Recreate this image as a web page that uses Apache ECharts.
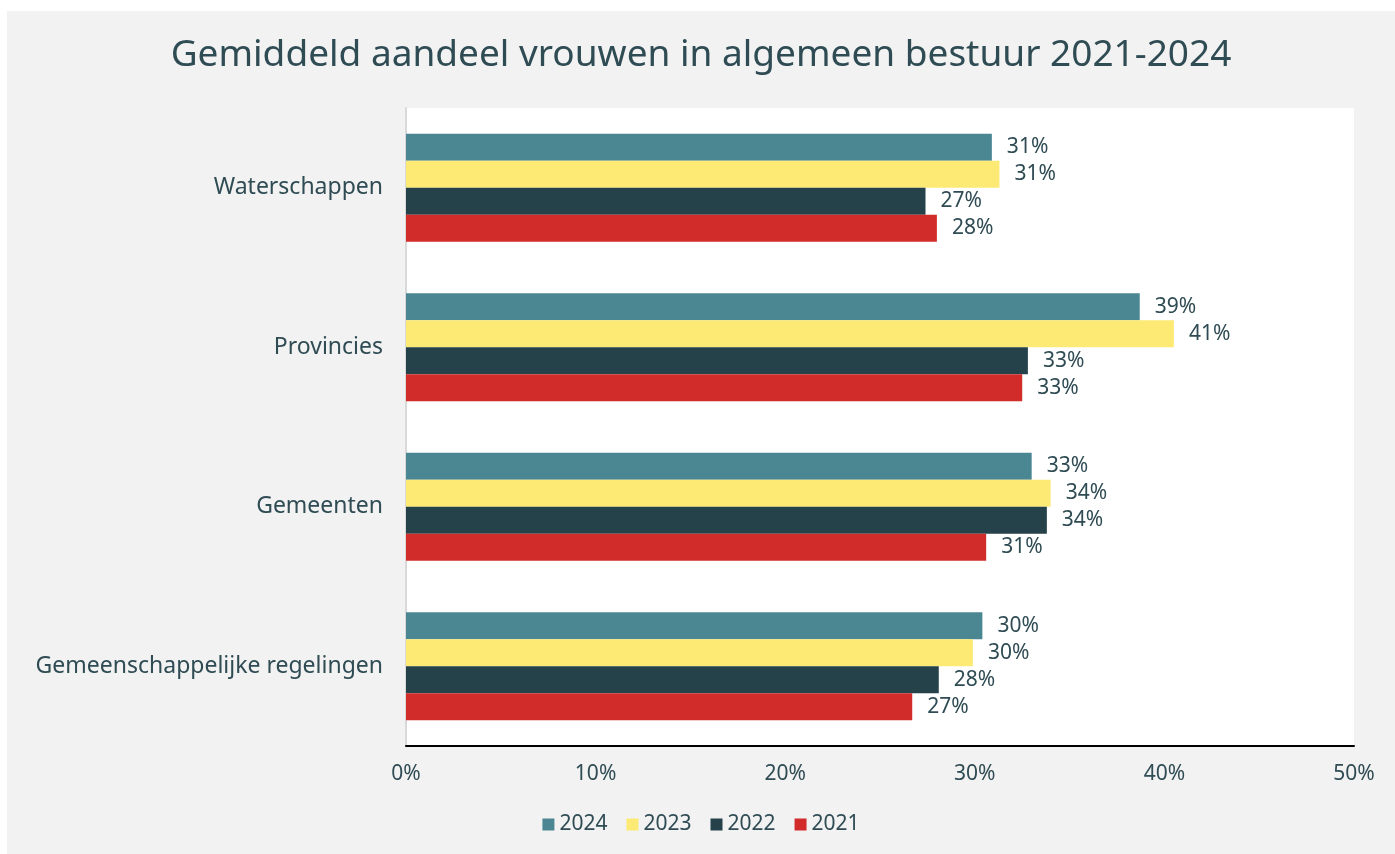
<!DOCTYPE html>
<html>
<head>
  <meta charset="utf-8">
  <script type="text/javascript" src="https://cdn.jsdelivr.net/npm/echarts/dist/echarts.min.js"></script>
  <style>
    html, body { margin: 0; padding: 0; background: #ffffff; width: 1395px; height: 854px; overflow: hidden; }
    #chart { position: absolute; left: 7px; top: 11px; width: 1388px; height: 843px; background: #f2f2f2; }
  </style>
</head>
<body>
  <div id="chart"></div>
  <script type="text/javascript">
    var categories = ["Waterschappen", "Provincies", "Gemeenten", "Gemeenschappelijke regelingen"];
    var years = ["2024", "2023", "2022", "2021"];
    var v2024 = [30.9, 38.7, 33.0, 30.4];
    var v2023 = [31.3, 40.5, 34.0, 29.9];
    var v2022 = [27.4, 32.8, 33.8, 28.1];
    var v2021 = [28.0, 32.5, 30.6, 26.7];
    var xTicks = [0, 10, 20, 30, 40, 50];

    var _colors = ['#4b8793', '#fdea74', '#25424a', '#d12c2a'];
    var _values = [v2024, v2023, v2022, v2021];
    var textColor = '#2f4b53';
    var font = '"Noto Sans", sans-serif';

    var chart = echarts.init(document.getElementById('chart'));
    var series = [];
    for (var i = 0; i < years.length; i++) {
      series.push({
        name: years[i],
        type: 'bar',
        barWidth: 27,
        barGap: '0%',
        itemStyle: { color: _colors[i] },
        label: {
          show: true,
          position: 'right',
          distance: 15,
          color: textColor,
          fontFamily: font,
          fontSize: 21,
          formatter: function (p) { return Math.round(p.value) + '%'; }
        },
        data: _values[i]
      });
    }

    var option = {
      animation: false,
      title: {
        text: 'Gemiddeld aandeel vrouwen in algemeen bestuur 2021-2024',
        left: 'center',
        top: 21,
        textStyle: { color: textColor, fontFamily: font, fontSize: 37, fontWeight: 'normal' }
      },
      legend: {
        data: years,
        bottom: 14,
        left: 'center',
        itemWidth: 12,
        itemHeight: 12,
        itemGap: 19,
        icon: 'rect',
        textStyle: { color: textColor, fontFamily: font, fontSize: 21 }
      },
      grid: {
        left: 399,
        right: 41,
        top: 97,
        bottom: 108,
        show: true,
        backgroundColor: '#ffffff',
        borderWidth: 0
      },
      xAxis: {
        type: 'value',
        min: xTicks[0],
        max: xTicks[xTicks.length - 1],
        interval: 10,
        axisLine: { show: true, lineStyle: { color: '#000000', width: 2 } },
        axisTick: { show: false },
        splitLine: { show: false },
        axisLabel: {
          color: textColor,
          fontFamily: font,
          fontSize: 21,
          margin: 18,
          formatter: '{value}%'
        }
      },
      yAxis: {
        type: 'category',
        inverse: true,
        data: categories,
        axisLine: { show: true, lineStyle: { color: '#d9d9d9', width: 2 } },
        axisTick: { show: false },
        axisLabel: { color: textColor, fontFamily: font, fontSize: 23, margin: 23 }
      },
      series: series
    };
    chart.setOption(option);
  </script>
</body>
</html>
